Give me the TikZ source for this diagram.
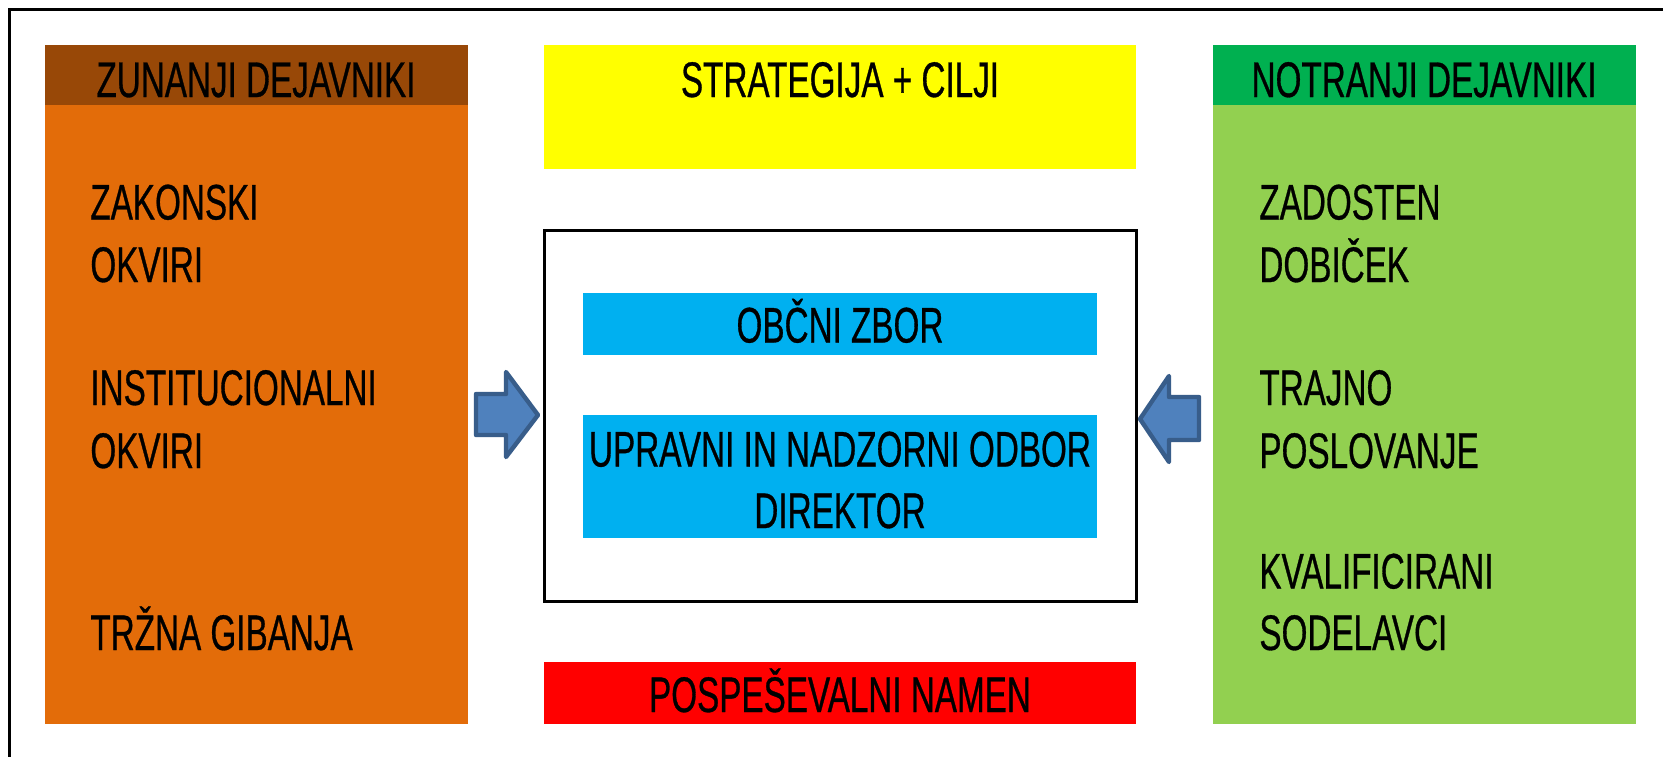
\documentclass[tikz,border=0pt]{standalone}
\usepackage{fontspec}
\setmainfont{Liberation Sans}[FakeStretch=0.665,FakeBold=0.6]
\definecolor{zorange}{RGB}{227,108,9}
\definecolor{zbrown}{RGB}{152,72,7}
\definecolor{zyellow}{RGB}{255,255,0}
\definecolor{zblue}{RGB}{0,176,240}
\definecolor{zred}{RGB}{255,0,0}
\definecolor{zgreen}{RGB}{0,176,80}
\definecolor{zlgreen}{RGB}{146,208,80}
\definecolor{arrfill}{RGB}{79,129,189}
\definecolor{arrline}{RGB}{56,93,138}
\begin{document}
\begin{tikzpicture}[x=0.5pt,y=-0.5pt,
  txt/.style={inner sep=0pt, font=\fontsize{25}{30}\selectfont},
  lefttxt/.style={txt, anchor=base west},
  ctxt/.style={txt, anchor=base},
  blockarrow/.style={fill=arrfill, draw=arrline, line width=2.2pt, line join=round}]
\useasboundingbox (0,0) rectangle (1663,756);
\clip (0,0) rectangle (1663,756);
\fill[white] (0,0) rectangle (1663,756);
\draw[line width=1.5pt] (9.5,800) -- (9.5,9.5) -- (1700,9.5);

% left column
\fill[zorange] (44.5,44.5) rectangle (468,724);
\fill[zbrown] (44.5,44.5) rectangle (468,105);
% right column
\fill[zlgreen] (1213,44.5) rectangle (1635.5,724);
\fill[zgreen] (1213,44.5) rectangle (1635.5,105);
% centre
\fill[zyellow] (544,44.5) rectangle (1136,168.5);
\draw[line width=1.5pt, fill=white] (544,230) rectangle (1136,601);
\fill[zblue] (583,293) rectangle (1097,355);
\fill[zblue] (583,415) rectangle (1097,538);
\fill[zred] (544,662) rectangle (1136,724);

% arrows
\draw[blockarrow] (476,394) -- (506,394) -- (506,372) -- (538,415) -- (506,457) -- (506,435) -- (476,435) -- cycle;
\draw[blockarrow] (1199,397) -- (1169,397) -- (1169,376) -- (1140,419) -- (1169,462) -- (1169,440) -- (1199,440) -- cycle;

% headers
\node[ctxt] (hz) at (256,97) {ZUNANJI DEJAVNIKI};
\node[ctxt] (hn) at (1424,97) {NOTRANJI DEJAVNIKI};
\node[ctxt] (hs) at (840,97) {STRATEGIJA + CILJI};

% left texts
\node[lefttxt] (l1) at (90,219.5) {ZAKONSKI};
\node[lefttxt] (l2) at (90,282) {OKVIRI};
\node[lefttxt] (l3) at (90,405) {INSTITUCIONALNI};
\node[lefttxt] (l4) at (90,468) {OKVIRI};
\node[lefttxt] (l5) at (90,650) {TRŽNA GIBANJA};

% right texts
\node[lefttxt] (r1) at (1259,219.5) {ZADOSTEN};
\node[lefttxt] (r2) at (1259,282) {DOBIČEK};
\node[lefttxt] (r3) at (1259,405) {TRAJNO};
\node[lefttxt] (r4) at (1259,468) {POSLOVANJE};
\node[lefttxt] (r5) at (1259,588.5) {KVALIFICIRANI};
\node[lefttxt] (r6) at (1259,650) {SODELAVCI};

% centre texts
\node[ctxt] (c1) at (840,342.5) {OBČNI ZBOR};
\node[ctxt] (c2) at (840,466.5) {UPRAVNI IN NADZORNI ODBOR};
\node[ctxt] (c3) at (840,528) {DIREKTOR};
\node[ctxt] (c4) at (840,712) {POSPEŠEVALNI NAMEN};
\end{tikzpicture}
\end{document}
